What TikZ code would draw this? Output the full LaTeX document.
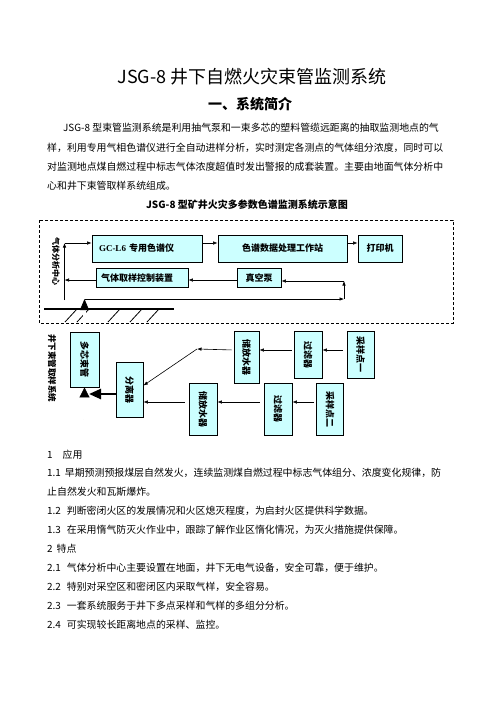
\documentclass[tikz,border=0pt]{standalone}
\usepackage{fontspec}
\usepackage{graphicx}
\setmainfont{Noto Sans CJK SC}
\newfontfamily\lser{Liberation Serif}
\usetikzlibrary{arrows.meta}
\definecolor{boxfill}{RGB}{204,255,255}
\tikzset{
  box/.style={draw, line width=0.8pt, fill=boxfill, inner sep=0pt, font=\fontsize{9}{10}\selectfont\bfseries},
  vbox/.style={box, minimum width=27pt, minimum height=52pt},
  arr/.style={-{Latex[length=4.5pt,width=3.5pt]}, line width=0.6pt},
  pipe/.style={double, double distance=2.2pt, line width=0.7pt},
  txt/.style={anchor=west, inner sep=0pt, text height=8.8pt, text depth=1.2pt, font=\fontsize{9.9}{12}\selectfont},
}
\begin{document}
\begin{tikzpicture}[x=1pt, y=-1pt]
\useasboundingbox (0,0) rectangle (496,702);
\fill[white] (0,0) rectangle (496,702);

% heading and introduction
\node[font=\fontsize{18}{20}\selectfont] (title) at (252,77) {JSG-8 井下自燃火灾束管监测系统};
\node[font=\fontsize{14}{16}\selectfont\bfseries] (head) at (250,104) {一、系统简介};
\node[txt] (p1) at (63,128) {JSG-8 型束管监测系统是利用抽气泵和一束多芯的塑料管缆远距离的抽取监测地点的气};
\node[txt] (p2) at (47,148) {样，利用专用气相色谱仪进行全自动进样分析，实时测定各测点的气体组分浓度，同时可以};
\node[txt] (p3) at (47,167) {对监测地点煤自燃过程中标志气体浓度超值时发出警报的成套装置。主要由地面气体分析中};
\node[txt] (p4) at (47,186) {心和井下束管取样系统组成。};
\node[font=\fontsize{10}{12}\selectfont\bfseries] (dtitle) at (247,205) {JSG-8 型矿井火灾多参数色谱监测系统示意图};

% surface part
\draw[line width=0.6pt, dash pattern=on 3pt off 2pt] (39,220) rectangle (453,323);
\node[font=\fontsize{8}{8}\selectfont\bfseries, rotate=-90] (ctrlbl) at (56,261) {气体分析中心};
\node[box, text width=96pt, inner xsep=7pt, align=left, minimum height=27pt] (gc) at (147,248.5) {{\lser GC-L6} 专用色谱仪};
\node[box, minimum width=129pt, minimum height=27pt] (ws) at (282.5,248.5) {色谱数据处理工作站};
\node[box, minimum width=44pt, minimum height=27pt] (pr) at (380,248.5) {打印机};
\node[box, text width=82pt, inner xsep=5pt, align=left, minimum height=19pt] (ctl) at (142,278) {气体取样控制装置};
\node[box, minimum width=44pt, minimum height=19pt] (vac) at (259,278) {真空泵};

\coordinate (lb) at (64.5,300);
\coordinate (lt) at (64.5,243);
\coordinate (lv) at (0,280);
\coordinate (ptop) at (84.5,299);
\coordinate (rb) at (344,299);
\coordinate (rt) at (344,281);

\draw[arr] (gc.east |- lt) -- (ws.west |- lt);
\draw[arr] (ws.east |- lt) -- (pr.west |- lt);
\draw[arr] (lb) -- (lt);
\draw[arr] (lt) -- (gc.west |- lt);
\draw[arr] (vac.west |- lv) -- (ctl.east |- lv);
\draw[arr] (ctl.west |- lv) -- (lb |- lv);
\draw[arr] (ptop) -- (rb);
\draw[arr] (rb) -- (rt);
\draw[arr] (rt) -- (vac.east |- rt);

% ground
\draw[line width=1.8pt] (44,309) -- (174,309);
\foreach \x in {65,77,108,130,147}
  \draw[line width=0.8pt] (\x,322) -- ++(12,-13);

% underground part
\node[font=\fontsize{8.5}{9}\selectfont\bfseries, rotate=-90] (uglbl) at (52,368) {井下束管取样系统};
\node[vbox, minimum width=29pt, minimum height=55pt] (dxs) at (84.5,359.5) {\rotatebox{-90}{多芯束管}};
\node[vbox, minimum height=55pt] (sep) at (129.5,389.5) {\rotatebox{-90}{分离器}};
\node[vbox, minimum width=25pt] (st1) at (246.5,357) {\rotatebox{-90}{储放水器}};
\node[vbox, minimum width=28pt, minimum height=47pt] (flt1) at (308,354.5) {\rotatebox{-90}{过滤器}};
\node[vbox, minimum height=47pt] (sp1) at (360.5,354.5) {\rotatebox{-90}{采样点一}};
\node[vbox, minimum width=28pt] (st2) at (203,409) {\rotatebox{-90}{储放水器}};
\node[vbox, minimum width=28pt] (flt2) at (278,409) {\rotatebox{-90}{过滤器}};
\node[vbox] (sp2) at (330,409) {\rotatebox{-90}{采样点二}};

\coordinate (r1) at (0,350);
\coordinate (r2) at (0,402);
\coordinate (bend) at (197,349);
\coordinate (thk) at (89,394);
\coordinate (pbot) at (84.5,419);

\draw[arr, shorten <=4pt] (sp1.west |- r1) -- (flt1.east |- r1);
\draw[arr, shorten <=2pt] (flt1.west |- r1) -- (st1.east |- r1);
\draw[arr, shorten <=2pt] (st1.west |- r1) -- (bend);
\draw[arr] (bend) -- ([yshift=4pt]sep.east);
\draw[arr, shorten <=2pt] (sp2.west |- r2) -- (flt2.east |- r2);
\draw[arr, shorten <=4pt] (flt2.west |- r2) -- (st2.east |- r2);
\draw[arr, shorten <=4pt] (st2.west |- r2) -- (sep.east |- r2);
\draw[line width=2.5pt, -{Triangle[width=10pt,length=12pt]}] (sep.west |- thk) -- (thk);

\draw[pipe, -{Triangle[width=10pt,length=10pt]}] (pbot) -- (dxs.south);
\draw[pipe, -{Triangle[width=9pt,length=11pt]}] (dxs.north) -- (ptop);

% application and features
\node[txt] (s1) at (47,455) {1\hspace{10pt}应用};
\node[txt] (s11) at (47,473) {1.1\hspace{4pt}早期预测预报煤层自然发火，连续监测煤自燃过程中标志气体组分、浓度变化规律，防};
\node[txt] (s11b) at (47,492) {止自然发火和瓦斯爆炸。};
\node[txt] (s12) at (47,511) {1.2\hspace{6pt}判断密闭火区的发展情况和火区熄灭程度，为启封火区提供科学数据。};
\node[txt] (s13) at (47,530) {1.3\hspace{6pt}在采用惰气防灭火作业中，跟踪了解作业区惰化情况，为灭火措施提供保障。};
\node[txt] (s2) at (47,549) {2\hspace{4pt}特点};
\node[txt] (s21) at (47,568) {2.1\hspace{6pt}气体分析中心主要设置在地面，井下无电气设备，安全可靠，便于维护。};
\node[txt] (s22) at (47,587) {2.2\hspace{6pt}特别对采空区和密闭区内采取气样，安全容易。};
\node[txt] (s23) at (47,606) {2.3\hspace{6pt}一套系统服务于井下多点采样和气样的多组分分析。};
\node[txt] (s24) at (47,625) {2.4\hspace{6pt}可实现较长距离地点的采样、监控。};
\end{tikzpicture}
\end{document}
